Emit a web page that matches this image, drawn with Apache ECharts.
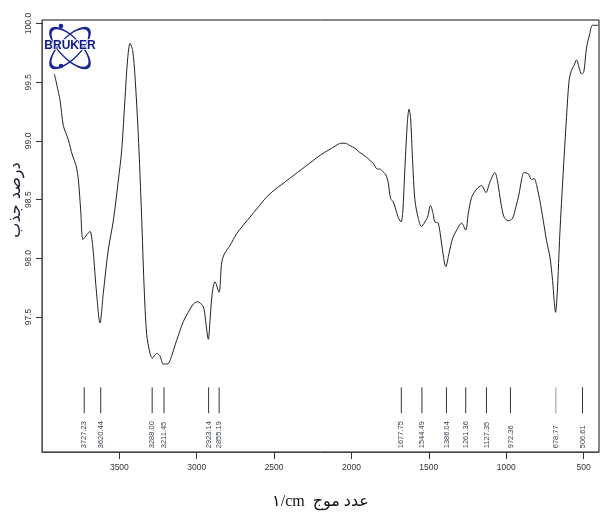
<!DOCTYPE html>
<html>
<head>
<meta charset="utf-8">
<script src="https://cdn.jsdelivr.net/npm/echarts@6/dist/echarts.min.js"></script>
<style>
html,body{margin:0;padding:0;background:#fff;}
#chart{width:600px;height:515px;}
</style>
</head>
<body>
<div id="chart"></div>
<script>
// Wavenumbers (1/cm) and transmittance (%)
var wavenumbers = [3920,3884,3862,3830,3804,3780,3765,3750,3735,3711,3690,3672,3651,3625,3604,3572,3539,3507,3485,3464,3447,3431,3414,3399,3378,3356,3341,3324,3302,3287,3259,3238,3216,3188,3162,3130,3087,3055,3022,2997,2958,2943,2925,2914,2900,2882,2856,2839,2824,2785,2742,2700,2650,2600,2550,2500,2450,2400,2350,2300,2250,2200,2150,2100,2070,2040,2010,1980,1945,1910,1881,1859,1833,1816,1799,1777,1762,1747,1730,1712,1698,1680,1669,1654,1639,1628,1618,1605,1590,1568,1547,1525,1508,1489,1472,1461,1439,1418,1390,1368,1346,1320,1288,1262,1245,1223,1191,1159,1131,1105,1073,1055,1034,1013,987,959,937,918,900,885,857,836,819,803,782,760,739,717,700,690,681,670,653,632,610,593,578,561,545,528,513,498,481,459,442,405];
var transmittance = [99.57,99.35,99.13,99.01,98.88,98.79,98.67,98.41,98.16,98.20,98.23,98.10,97.76,97.45,97.70,98.07,98.32,98.66,98.92,99.35,99.69,99.83,99.77,99.55,99.06,98.35,97.79,97.36,97.19,97.15,97.19,97.17,97.10,97.10,97.17,97.30,97.46,97.54,97.61,97.63,97.59,97.47,97.31,97.47,97.70,97.80,97.71,97.96,98.03,98.11,98.21,98.28,98.36,98.44,98.52,98.58,98.63,98.68,98.73,98.78,98.83,98.88,98.92,98.96,98.98,98.98,98.96,98.94,98.90,98.87,98.835,98.81,98.76,98.76,98.74,98.71,98.64,98.51,98.48,98.41,98.35,98.31,98.38,98.78,99.15,99.27,99.20,98.84,98.50,98.34,98.27,98.31,98.35,98.45,98.38,98.31,98.30,98.13,97.93,98.05,98.17,98.24,98.30,98.24,98.38,98.52,98.59,98.62,98.56,98.65,98.73,98.65,98.47,98.35,98.32,98.34,98.44,98.54,98.67,98.73,98.72,98.67,98.68,98.62,98.49,98.32,98.15,98.01,97.81,97.64,97.54,97.70,98.21,98.72,99.20,99.52,99.60,99.645,99.69,99.62,99.57,99.59,99.79,99.915,99.985,99.985];

// Peak picks
var peakPositions = [3727.23,3620.44,3288.00,3211.45,2923.14,2855.19,1677.75,1544.49,1386.04,1261.36,1127.35,972.36,678.77,506.61];

// Tick values
var xTicks = [500,1000,1500,2000,2500,3000,3500];
var yTicks = [97.5,98.0,98.5,99.0,99.5,100.0];

var xAxisTitle = '\u0661/cm  \u0639\u062f\u062f \u0645\u0648\u062c';
var yAxisTitle = '\u062f\u0631\u0635\u062f \u062c\u0630\u0628';

var spectrum = wavenumbers.map(function (w, i) { return [w, transmittance[i]]; });

var chart = echarts.init(document.getElementById('chart'), null, {renderer: 'canvas'});

var navy = '#1b2590';

chart.setOption({
  animation: false,
  backgroundColor: '#fff',
  grid: {left: 42, right: 1, top: 20, bottom: 63, show: true, borderColor: '#111', borderWidth: 1,
    containLabel: false, outerBoundsMode: 'none'},
  xAxis: {
    type: 'value', inverse: true, min: 400, max: 4000,
    name: xAxisTitle, nameLocation: 'middle', nameGap: 42,
    nameTextStyle: {fontFamily: 'Liberation Serif, DejaVu Sans, serif', fontSize: 16, color: '#111'},
    axisLine: {show: true, lineStyle: {color: '#444', width: 1}},
    axisTick: {show: true, length: 7, customValues: xTicks, lineStyle: {color: '#333'}},
    axisLabel: {customValues: xTicks, fontFamily: 'Liberation Sans, Arial, sans-serif', fontSize: 8.5, color: '#333', margin: 11,
      formatter: function (v) { return String(Math.round(v)); }},
    splitLine: {show: false}
  },
  yAxis: {
    type: 'value', min: 96.35, max: 100.03,
    name: yAxisTitle, nameLocation: 'middle', nameGap: 18, nameRotate: 90, nameMoveOverlap: false,
    nameTextStyle: {fontFamily: 'DejaVu Sans, sans-serif', fontSize: 16, color: '#1a1a30', padding: [0, 0, 0, 72]},
    axisLine: {show: true, lineStyle: {color: '#555', width: 1}},
    axisTick: {show: true, length: 6, customValues: yTicks, lineStyle: {color: '#333'}},
    axisLabel: {customValues: yTicks, rotate: 90, fontFamily: 'Liberation Sans, Arial, sans-serif', fontSize: 8.5, color: '#333', margin: 9,
      formatter: function (v) { return Number(v).toFixed(1); }},
    splitLine: {show: false}
  },
  series: [
    {
      type: 'line', data: spectrum, showSymbol: false, smooth: 0.3,
      lineStyle: {color: '#222', width: 1}, clip: true
    },
    {
      type: 'custom',
      data: peakPositions.map(function (p) { return [p]; }),
      renderItem: function (params, api) {
        var wn = api.value(0);
        var top = api.coord([wn, 96.90]);
        var bot = api.coord([wn, 96.68]);
        var light = Math.abs(wn - 678.77) < 0.01;
        return {
          type: 'group',
          children: [
            {type: 'line', shape: {x1: top[0], y1: top[1], x2: bot[0], y2: bot[1]},
              style: {stroke: light ? '#999' : '#333', lineWidth: 1}},
            {type: 'text', x: top[0], y: bot[1] + 35, rotation: Math.PI / 2,
              style: {text: wn.toFixed(2), align: 'left', verticalAlign: 'middle',
                fontFamily: 'Liberation Sans, Arial, sans-serif', fontSize: 7.5, fill: '#3a4250'}}
          ]
        };
      }
    }
  ],
  graphic: [
    {type: 'circle', x: 70, y: 48, scaleX: 1, scaleY: 0.4, rotation: 0.8,
      shape: {cx: 0, cy: 0, r: 26}, style: {fill: 'none', stroke: navy, lineWidth: 2, strokeNoScale: true}},
    {type: 'circle', x: 70, y: 48, scaleX: 1, scaleY: 0.4, rotation: -0.8,
      shape: {cx: 0, cy: 0, r: 26}, style: {fill: 'none', stroke: navy, lineWidth: 2, strokeNoScale: true}},
    {type: 'circle', shape: {cx: 61, cy: 26, r: 2.3}, style: {fill: navy}},
    {type: 'circle', shape: {cx: 61, cy: 66, r: 2.3}, style: {fill: navy}},
    {type: 'text', x: 70, y: 46, style: {text: 'BRUKER', align: 'center', verticalAlign: 'middle',
      fontFamily: 'Liberation Sans, Arial, sans-serif', fontWeight: 'bold', fontSize: 12, fill: '#0d1a8a',
      stroke: '#fff', lineWidth: 1.5}}
  ]
});
</script>
</body>
</html>
